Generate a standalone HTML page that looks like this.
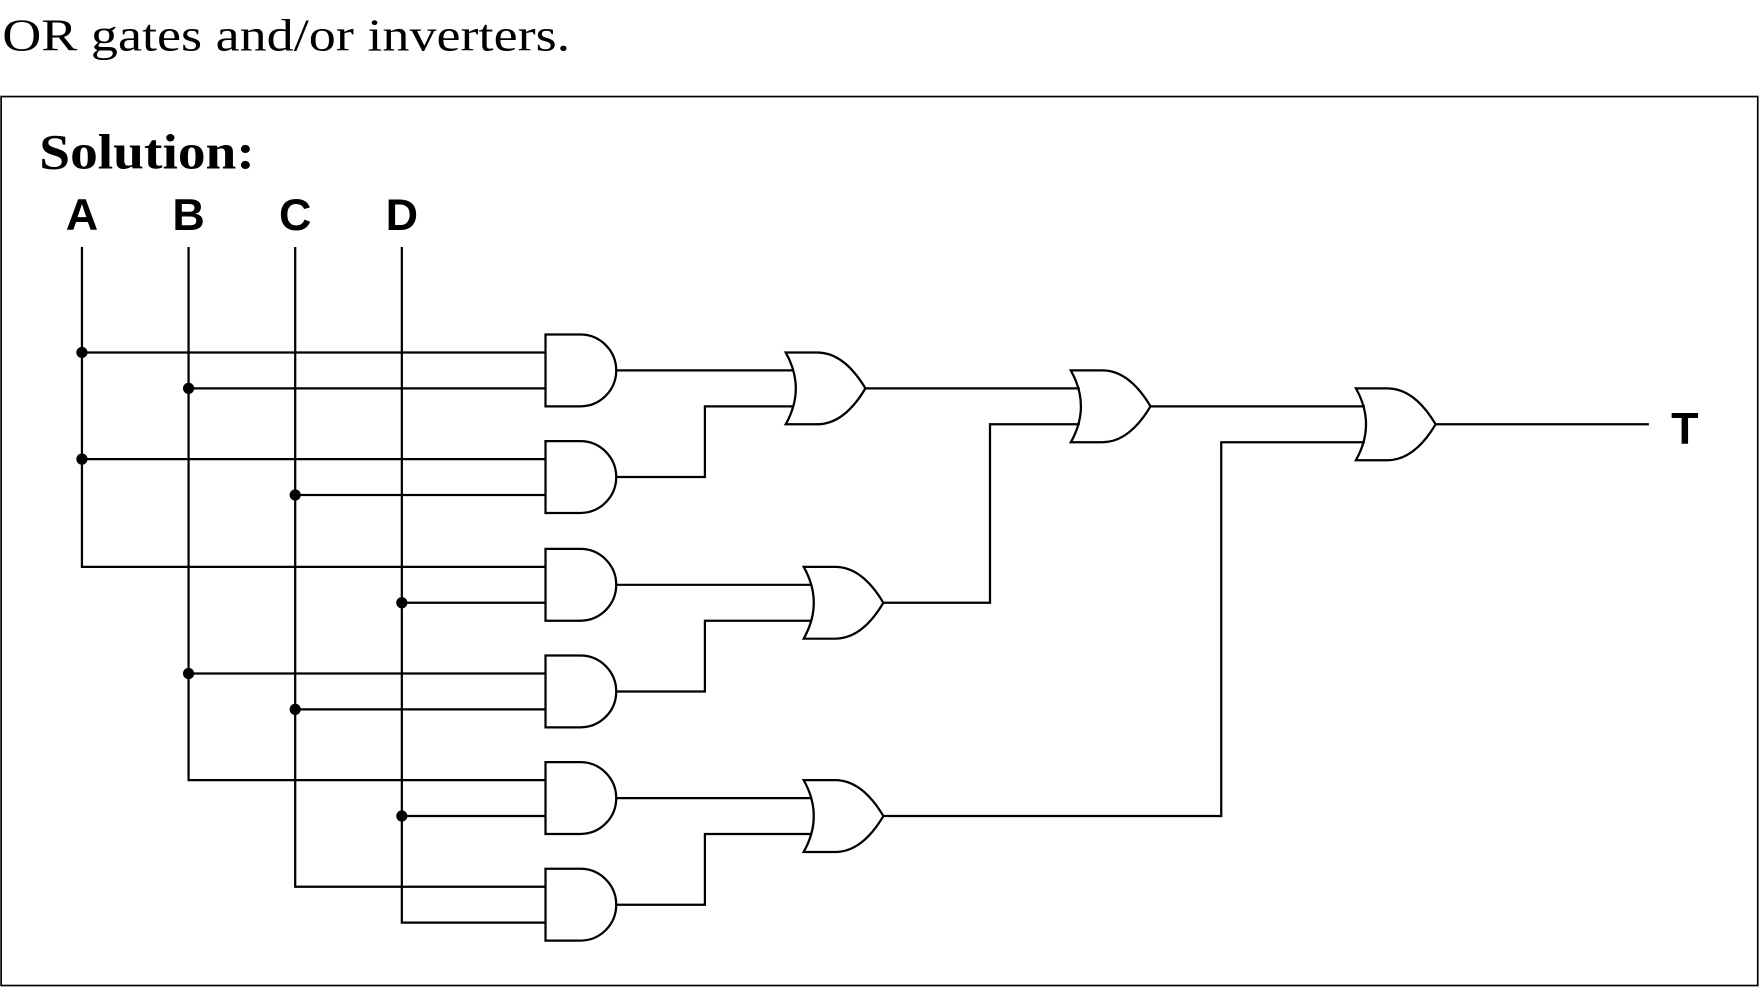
<!DOCTYPE html>
<html><head><style>
html,body{margin:0;padding:0;background:#fff;}
svg{display:block;}
</style></head><body>
<svg width="1760" height="987" viewBox="0 0 1568 879.3" xmlns="http://www.w3.org/2000/svg">
<rect width="1568" height="880" fill="#fff"/>
<text x="2" y="45" font-family="Liberation Serif, serif" font-size="41" textLength="506" lengthAdjust="spacingAndGlyphs">OR gates and/or inverters.</text>
<rect x="1" y="86" width="1565" height="792" fill="none" stroke="#000" stroke-width="1.5"/>
<text x="35" y="150" font-family="Liberation Serif, serif" font-weight="bold" font-size="44" textLength="192" lengthAdjust="spacingAndGlyphs">Solution:</text>
<g font-family="Liberation Sans, sans-serif" font-weight="bold" font-size="40" text-anchor="middle">
<text x="73" y="205">A</text><text x="168" y="205">B</text><text x="263" y="205">C</text><text x="358" y="205">D</text>
<text x="1501" y="395">T</text>
</g>
<g fill="none" stroke="#000" stroke-width="2">
<!-- verticals -->
<path d="M73 220V505H486M168 220V695H486M263 220V790H486M358 220V822H486"/>
<!-- inputs -->
<path d="M73 314H486M168 346H486M73 409H486M263 441H486M358 537H486M168 600H486M263 632H486M358 727H486"/>
<!-- AND gates -->
<g id="and">
<path d="M486 298H517A32 32 0 0 1 517 362H486Z"/>
</g>
<path d="M486 393H517A32 32 0 0 1 517 457H486Z"/>
<path d="M486 489H517A32 32 0 0 1 517 553H486Z"/>
<path d="M486 584H517A32 32 0 0 1 517 648H486Z"/>
<path d="M486 679H517A32 32 0 0 1 517 743H486Z"/>
<path d="M486 774H517A32 32 0 0 1 517 838H486Z"/>
<!-- AND outputs to ORs -->
<path d="M549 330H707M549 425H628V362H707"/>
<path d="M549 521H723M549 616H628V553H723"/>
<path d="M549 711H723M549 806H628V743H723"/>
<!-- OR gates -->
<path d="M700 314Q718 346 700 378H728Q752 378 771 346Q752 314 728 314Z"/>
<path d="M716 505Q734 537 716 569H744Q768 569 787 537Q768 505 744 505Z"/>
<path d="M716 695Q734 727 716 759H744Q768 759 787 727Q768 695 744 695Z"/>
<path d="M954 330Q972 362 954 394H982Q1006 394 1025 362Q1006 330 982 330Z"/>
<path d="M1208 346Q1226 378 1208 410H1236Q1260 410 1279 378Q1260 346 1236 346Z"/>
<!-- OR connections -->
<path d="M771 346H962M787 537H882V378H962"/>
<path d="M1025 362H1216M787 727H1088V394H1216"/>
<path d="M1279 378H1469"/>
</g>
<g fill="#000">
<circle cx="73" cy="314" r="5"/><circle cx="168" cy="346" r="5"/>
<circle cx="73" cy="409" r="5"/><circle cx="263" cy="441" r="5"/>
<circle cx="358" cy="537" r="5"/><circle cx="168" cy="600" r="5"/>
<circle cx="263" cy="632" r="5"/><circle cx="358" cy="727" r="5"/>
</g>
</svg>
</body></html>
